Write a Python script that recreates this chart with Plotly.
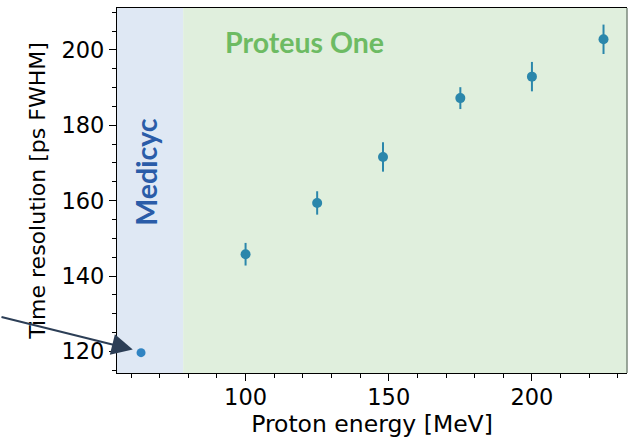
import plotly.graph_objects as go

# Data
medicyc_energy = [63.5]
medicyc_res = [119.7]
proteus_energy = [100, 125, 148, 175, 200, 225]
proteus_res = [145.8, 159.4, 171.6, 187.2, 192.9, 202.8]
proteus_err = [3.0, 3.1, 3.9, 2.9, 3.9, 3.9]

x_range = [55.1, 233.2]
y_range = [114.3, 211.1]
band_split = 78.2

fig = go.Figure()

fig.add_trace(go.Scatter(
    x=proteus_energy, y=proteus_res, mode="markers",
    marker=dict(color="#2b87ab", size=10),
    error_y=dict(type="data", array=proteus_err, color="#2b87ab", thickness=2, width=0),
    showlegend=False,
))
fig.add_trace(go.Scatter(
    x=medicyc_energy, y=medicyc_res, mode="markers",
    marker=dict(color="#3184c2", size=9),
    showlegend=False,
))

fig.add_shape(type="rect", xref="x", yref="paper", x0=x_range[0], x1=band_split, y0=0, y1=1,
              fillcolor="#dfe8f4", line_width=0, layer="below")
fig.add_shape(type="rect", xref="x", yref="paper", x0=band_split, x1=x_range[1], y0=0, y1=1,
              fillcolor="#e0efdd", line_width=0, layer="below")
# right spine
fig.add_shape(type="line", xref="paper", yref="paper", x0=1, x1=1, y0=0, y1=1,
              line=dict(color="#7c8a7c", width=1.5))

fig.add_annotation(x=120.6, y=202.1, text="<b>Proteus One</b>", showarrow=False,
                   font=dict(family="Lato", size=28.5, color="#6dbb63"),
                   xanchor="center", yanchor="middle")
fig.add_annotation(x=65.1, y=167.6, text="<b>Medicyc</b>", showarrow=False, textangle=-90,
                   font=dict(family="Lato", size=28.5, color="#2a5ca8"),
                   xanchor="center", yanchor="middle")
fig.add_annotation(x=60.6, y=120.5, ax=-133, ay=-33, text="", showarrow=True,
                   arrowhead=2, arrowwidth=2, arrowsize=2.1, arrowcolor="#2c3e56", standoff=0)

tickfont = dict(family="DejaVu Sans", size=22.5, color="black")
fig.update_xaxes(
    range=x_range, showgrid=False, zeroline=False,
    showline=True, linecolor="black", linewidth=1.3, mirror=True,
    ticks="outside", ticklen=7, tickwidth=1.3, tickcolor="black",
    tickvals=[100, 150, 200], tickfont=tickfont, ticklabelstandoff=-3,
    minor=dict(ticks="outside", ticklen=4, tickwidth=1, tickcolor="black", dtick=10, tick0=0),
    title=dict(text="Proton energy [MeV]", font=dict(family="DejaVu Sans", size=23.5, color="black"), standoff=6),
)
fig.update_yaxes(
    range=y_range, showgrid=False, zeroline=False,
    showline=True, linecolor="black", linewidth=1.3,
    ticks="outside", ticklen=7, tickwidth=1.3, tickcolor="black",
    tickvals=[120, 140, 160, 180, 200], tickfont=tickfont,
    minor=dict(ticks="outside", ticklen=4, tickwidth=1, tickcolor="black", dtick=5, tick0=0),
    title=dict(text="Time resolution [ps FWHM]", font=dict(family="DejaVu Sans", size=22, color="black"), standoff=9),
)

fig.update_layout(
    width=635, height=440,
    margin=dict(l=117, r=8, t=7, b=65),
    paper_bgcolor="white", plot_bgcolor="white",
)

fig.write_html("out.html")
